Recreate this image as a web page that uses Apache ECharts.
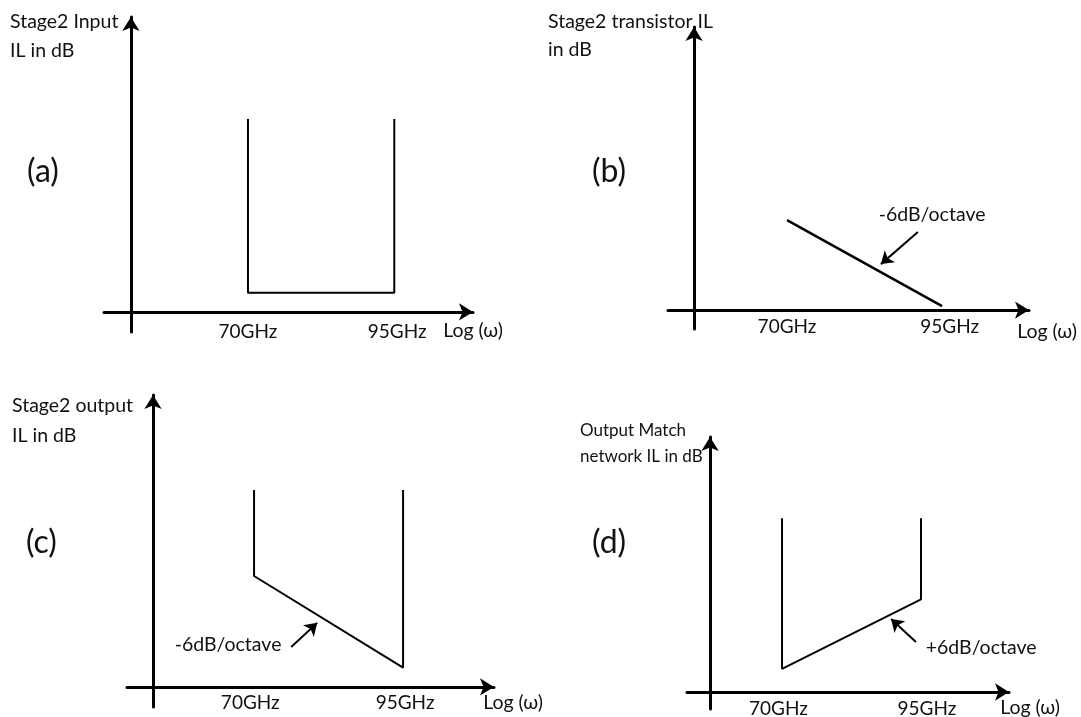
<!DOCTYPE html>
<html>
<head>
<meta charset="utf-8">
<script src="https://cdn.jsdelivr.net/npm/echarts@6/dist/echarts.min.js"></script>
<style>html,body{margin:0;padding:0;background:#fff}#c{width:1081px;height:717px}</style>
</head>
<body>
<div id="c"></div>
<script>
// ---- data (arbitrary log-frequency units on x, dB-like units on y) ----
const tickLabels = ['70GHz', '95GHz'];
const ticksA = [4, 9.1];
const ticksB = [4, 11];
const ticksC = [3.85, 9.98];
const ticksD = [3.8, 12.05];

const curveAx = [4, 4, 9, 9];
const curveAy = [10, 1, 1, 10];
const curveBx = [4, 10.67];
const curveBy = [4.66, 0.2];
const curveCx = [4, 4, 9.9, 9.9];
const curveCy = [10.2, 5.75, 1.0, 10.2];
const curveDx = [4, 4, 11.72, 11.72];
const curveDy = [9.0, 1.2, 4.8, 9.0];

const panelTitles = ['Stage2 Input\nIL in dB', 'Stage2 transistor IL\nin dB', 'Stage2 output\nIL in dB', 'Output Match\nnetwork IL in dB'];
const panelTags = ['(a)', '(b)', '(c)', '(d)'];
const axisName = 'Log (ω)';

const noteTexts = ['-6dB/octave', '-6dB/octave', '+6dB/octave'];
const noteX = [10.24, 2.97, 15.06];
const noteY = [4.92, 2.18, 2.28];
const arrowFromX = [9.63, 5.47, 11.44];
const arrowFromY = [4.04, 2.07, 2.59];
const arrowToX = [8.04, 6.5, 10.06];
const arrowToY = [2.38, 3.32, 3.78];
const notePanel = [1, 2, 3];

// ---- layout ----
const FONT = 'Lato';
const INK = '#111';
const layout = [
  {grid: {left: 104, top: 17, width: 369, height: 315}, x: [-0.92, 11.69], y: [-1.04, 15.28], margin: -10, gap: 0, nameLH: 38},
  {grid: {left: 668, top: 27, width: 361, height: 302}, x: [-1.12, 14.41], y: [-0.98, 14.66], margin: -12, gap: 18, nameLH: 44},
  {grid: {left: 127, top: 395, width: 367, height: 312}, x: [-1.03, 13.5], y: [-1.04, 15.13], margin: -14, gap: 19, nameLH: 32},
  {grid: {left: 687, top: 437, width: 322, height: 272}, x: [-1.28, 16.61], y: [-0.88, 13.21], margin: -10, gap: 21, nameLH: 32}
];
const ticks = [ticksA, ticksB, ticksC, ticksD];
const curves = [[curveAx, curveAy], [curveBx, curveBy], [curveCx, curveCy], [curveDx, curveDy]];

const titlePos = [
  {left: 10, top: 7.5, size: 19.5, lh: 29},
  {left: 548, top: 8, size: 19.5, lh: 28},
  {left: 12, top: 391, size: 19.5, lh: 30},
  {left: 580, top: 418, size: 17, lh: 26}
];
const tagPos = [{left: 27, top: 153}, {left: 592, top: 153}, {left: 26, top: 524}, {left: 592, top: 524}];

const axisLineStyle = {color: '#000', width: 3};

const grids = layout.map(l => Object.assign({containLabel: false, outerBoundsMode: 'none'}, l.grid));
const xAxes = layout.map((l, i) => ({
  type: 'value', gridIndex: i, min: l.x[0], max: l.x[1],
  axisLine: {show: true, onZero: true, lineStyle: axisLineStyle, symbol: ['none', 'arrow'], symbolSize: [13, 14]},
  axisTick: {show: false}, splitLine: {show: false},
  axisLabel: {
    show: true, customValues: ticks[i], margin: l.margin, hideOverlap: false,
    fontFamily: FONT, fontSize: 19, lineHeight: 19, color: INK,
    formatter: v => { const k = ticks[i].indexOf(v); return k >= 0 ? tickLabels[k] : ''; }
  },
  name: axisName, nameLocation: 'end', nameGap: l.gap, nameMoveOverlap: false,
  nameTextStyle: {fontFamily: FONT, fontSize: 19.5, color: INK, align: 'center', verticalAlign: 'top', lineHeight: l.nameLH}
}));
const yAxes = layout.map((l, i) => ({
  type: 'value', gridIndex: i, min: l.y[0], max: l.y[1],
  axisLine: {show: true, onZero: true, lineStyle: axisLineStyle, symbol: ['none', 'arrow'], symbolSize: [13, 14]},
  axisTick: {show: false}, splitLine: {show: false}, axisLabel: {show: false}
}));

const series = [];
curves.forEach((c, i) => {
  series.push({
    type: 'line', xAxisIndex: i, yAxisIndex: i, symbol: 'none', animation: false,
    lineStyle: {color: '#000', width: i === 1 ? 2.5 : 2},
    data: c[0].map((x, k) => [x, c[1][k]])
  });
});
noteTexts.forEach((t, k) => {
  const p = notePanel[k];
  series.push({
    type: 'lines', coordinateSystem: 'cartesian2d', xAxisIndex: p, yAxisIndex: p, animation: false,
    symbol: ['none', 'arrow'], symbolSize: 12,
    lineStyle: {color: '#000', width: 2, opacity: 1},
    data: [{coords: [[arrowFromX[k], arrowFromY[k]], [arrowToX[k], arrowToY[k]]]}]
  });
  series.push({
    type: 'scatter', xAxisIndex: p, yAxisIndex: p, animation: false, symbolSize: 1,
    itemStyle: {color: 'rgba(0,0,0,0)'},
    label: {show: true, position: 'inside', formatter: t, fontFamily: FONT, fontSize: 19.5,
      color: INK, textBorderWidth: 0, opacity: 1},
    emphasis: {disabled: true},
    data: [[noteX[k], noteY[k]]]
  });
});

const titles = [];
panelTitles.forEach((t, i) => {
  titles.push({text: t, left: titlePos[i].left, top: titlePos[i].top, padding: 0,
    textStyle: {fontFamily: FONT, fontSize: titlePos[i].size, fontWeight: 'normal', color: INK, lineHeight: titlePos[i].lh}});
});
panelTags.forEach((t, i) => {
  titles.push({text: t, left: tagPos[i].left, top: tagPos[i].top, padding: 0,
    textStyle: {fontFamily: FONT, fontSize: 32, fontWeight: 'normal', color: INK, lineHeight: 38}});
});

const chart = echarts.init(document.getElementById('c'), null, {renderer: 'canvas'});
chart.setOption({
  backgroundColor: '#fff', animation: false,
  textStyle: {fontFamily: FONT},
  title: titles, grid: grids, xAxis: xAxes, yAxis: yAxes, series: series
});
</script>
</body>
</html>
